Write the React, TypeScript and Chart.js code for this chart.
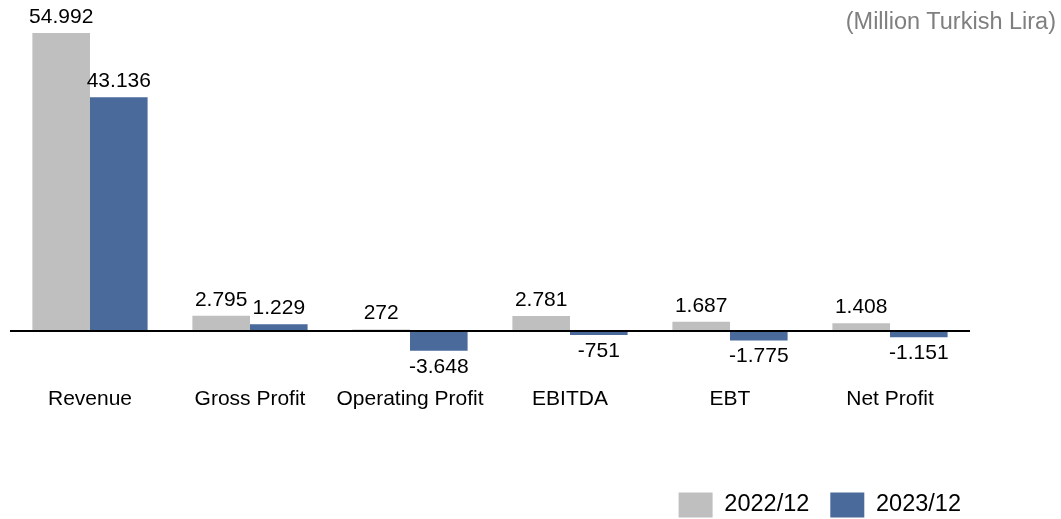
import React, { useEffect, useRef } from "react";
import { Chart, registerables } from "chart.js";

Chart.register(...registerables);

const categories = ["Revenue", "Gross Profit", "Operating Profit", "EBITDA", "EBT", "Net Profit"];
const series2022 = [54992, 2795, 272, 2781, 1687, 1408];
const series2023 = [43136, 1229, -3648, -751, -1775, -1151];
const seriesLabels = ["2022/12", "2023/12"];
const seriesColors = ["#bfbfbf", "#4a6a9b"];
const unitLabel = "(Million Turkish Lira)";
const yMin = -7200;
const yMax = 54992;

const FAMILY = "'Liberation Sans', Arial, Helvetica, sans-serif";

const fmt = (v: number) => {
  const s = Math.abs(v).toString().replace(/\B(?=(\d{3})+(?!\d))/g, ".");
  return (v < 0 ? "-" : "") + s;
};

const valueLabels = {
  id: "valueLabels",
  afterDatasetsDraw(chart: any) {
    const ctx = chart.ctx;
    ctx.save();
    ctx.font = `21px ${FAMILY}`;
    ctx.fillStyle = "#000";
    ctx.textAlign = "center";
    ctx.textBaseline = "middle";
    chart.data.datasets.forEach((ds: any, di: number) => {
      const meta = chart.getDatasetMeta(di);
      meta.data.forEach((el: any, i: number) => {
        const v = ds.data[i] as number;
        const y = v >= 0 ? el.y - 16 : el.y + 16;
        ctx.fillText(fmt(v), el.x, y);
      });
    });
    ctx.restore();
  },
};

const legendShift = {
  id: "legendShift",
  afterLayout(chart: any) {
    const lg = chart.legend;
    if (!lg) return;
    lg.left += 12;
    lg.right += 12;
    lg.top += 8.5;
    lg.bottom += 8.5;
  },
};

export default function App() {
  const ref = useRef<HTMLCanvasElement | null>(null);

  useEffect(() => {
    if (!ref.current) return;
    const chart = new Chart(ref.current, {
      type: "bar",
      data: {
        labels: categories,
        datasets: [
          {
            label: seriesLabels[0],
            data: series2022,
            backgroundColor: seriesColors[0],
            borderWidth: 0,
            categoryPercentage: 0.72,
            barPercentage: 1.0,
          },
          {
            label: seriesLabels[1],
            data: series2023,
            backgroundColor: seriesColors[1],
            borderWidth: 0,
            categoryPercentage: 0.72,
            barPercentage: 1.0,
          },
        ],
      },
      options: {
        responsive: false,
        animation: false,
        devicePixelRatio: 1,
        layout: { padding: { top: 33, left: 10, right: 91, bottom: 0 } },
        plugins: {
          legend: {
            position: "bottom",
            align: "end",
            labels: {
              boxWidth: 34,
              boxHeight: 25,
              padding: 21,
              color: "#000",
              font: { size: 23.5, family: FAMILY },
            },
          },
          tooltip: { enabled: false },
        },
        scales: {
          x: {
            grid: { display: false, drawTicks: false },
            border: { display: false },
            ticks: {
              color: "#000",
              font: { size: 21, family: FAMILY },
              padding: 17,
              maxRotation: 0,
              autoSkip: false,
            },
            afterFit: (s: any) => {
              s.height = 93;
            },
          },
          y: {
            min: yMin,
            max: yMax,
            ticks: { display: false },
            grid: {
              drawTicks: false,
              color: (c: any) => (c.tick && c.tick.value === 0 ? "#000" : "rgba(0,0,0,0)"),
              lineWidth: 2,
            },
            border: { display: false },
            afterBuildTicks: (s: any) => {
              s.ticks = [{ value: 0 }];
            },
            afterFit: (s: any) => {
              s.width = 0;
            },
          },
        },
      } as any,
      plugins: [valueLabels, legendShift],
    });
    return () => chart.destroy();
  }, []);

  return (
    <div style={{ position: "fixed", left: 0, top: 0, width: 1061, height: 519, background: "#fff", overflow: "hidden" }}>
      <canvas ref={ref} width={1061} height={519} style={{ display: "block", width: 1061, height: 519 }} />
      <div
        style={{
          position: "absolute",
          right: 5,
          top: 8,
          fontFamily: FAMILY,
          fontSize: 23.5,
          lineHeight: "27px",
          color: "#7f7f7f",
          whiteSpace: "nowrap",
        }}
      >
        {unitLabel}
      </div>
    </div>
  );
}
